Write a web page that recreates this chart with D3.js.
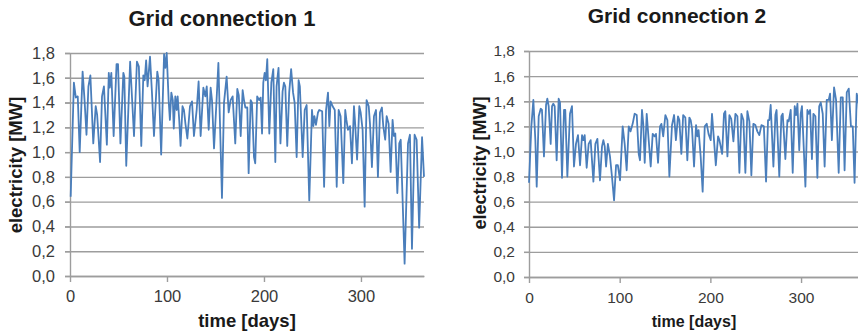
<!DOCTYPE html>
<html>
<head>
<meta charset="utf-8">
<script src="https://cdn.jsdelivr.net/npm/d3@7"></script>
<style>
  html, body { margin: 0; padding: 0; background: #fff; }
  svg { display: block; font-family: "Liberation Sans", Arial, sans-serif; }
</style>
</head>
<body>
<svg id="chart" width="858" height="336"></svg>
<script>
// Tick values and labels
const yTicks = [0, 0.2, 0.4, 0.6, 0.8, 1.0, 1.2, 1.4, 1.6, 1.8];
const xTicks = [0, 100, 200, 300];
const titles = ["Grid connection 1", "Grid connection 2"];
const xLabel = "time [days]";
const yLabel = "electricity [MW]";

// Daily load, [day, MW] at the turning points of the curve
const connection1 = [
  [0.7,0.64],[4,1.56],[6,1.44],[8,1.45],[10,1.00],[13,1.65],[15,1.42],[17,1.14],[19,1.53],[21,1.62],
  [24,1.07],[26.5,1.37],[28,1.30],[31,0.92],[33,1.45],[35,1.53],[38,1.06],[40,1.64],[41,1.52],[42.6,1.64],
  [45,1.13],[48,1.71],[49.5,1.71],[52,1.07],[55,1.64],[56,1.61],[58,0.89],[62,1.73],[66,1.13],[69,1.73],
  [71,1.69],[73.5,1.05],[75.6,1.62],[77,1.58],[78.5,1.74],[80,1.53],[82.5,1.77],[84.5,1.48],[86.6,1.13],[90,1.65],
  [91.4,1.58],[94,0.98],[97,1.79],[98.3,1.68],[99.7,1.80],[101.7,1.42],[103,1.26],[104.5,1.48],[106,1.42],[107,1.19],
  [108.6,1.45],[110,1.34],[111,1.45],[112.7,1.25],[114,1.05],[116,1.37],[117.5,1.34],[119,1.23],[121,1.11],[123.7,1.37],
  [125.8,1.41],[127.8,1.13],[130.6,1.34],[132.6,1.57],[134.7,1.13],[137.5,1.52],[139.5,1.45],[141,1.53],[143,1.18],[145,1.52],
  [146.4,1.42],[148.5,1.03],[151,1.40],[153,1.72],[156.7,0.63],[158.8,1.40],[161.5,1.61],[163.6,1.32],[165.6,1.42],[167.7,1.45],
  [170.4,1.07],[172.5,1.51],[174,1.46],[176,1.13],[178,1.50],[179.4,1.42],[180.8,1.36],[182.8,1.36],[184.2,0.83],[186.3,1.42],
  [187.6,1.40],[189.7,0.96],[191,0.91],[193,1.45],[195,1.42],[196.6,1.44],[198,1.15],[199.3,1.56],[200.7,1.64],[202,1.58],
  [203.4,1.75],[205.5,1.15],[207.6,1.56],[209.6,1.67],[211.7,0.92],[213,1.53],[215,1.68],[217,1.07],[219.2,1.49],[220.6,1.56],
  [222,1.53],[224,1.05],[226,1.48],[228,1.67],[230,1.48],[231.6,1.40],[233.7,0.96],[235.7,1.58],[237,1.53],[239.9,0.96],
  [242,1.34],[244,1.38],[246.7,0.61],[249.5,1.34],[250.9,1.21],[252,1.29],[253.6,1.22],[255.7,1.32],[257,1.34],[260,1.33],
  [262,0.72],[264,1.34],[266,1.48],[267.4,1.21],[268.7,1.41],[270.8,1.37],[273,1.34],[275,0.72],[277,1.34],[279,1.29],
  [281.8,0.75],[283.8,1.34],[285,1.26],[286.6,1.18],[288.7,1.21],[290.7,0.91],[292.8,1.37],[294,1.23],[296,0.94],[298.3,1.37],
  [299.7,1.32],[301.7,1.18],[303.8,0.56],[305.8,1.42],[308,1.37],[309.3,1.23],[311.3,0.88],[313.4,1.29],[315.5,1.34],[317.5,0.80],
  [319.6,1.32],[321.6,1.36],[323,1.21],[325,1.10],[326.5,1.29],[328.5,1.23],[330.6,0.84],[332.6,1.26],[334,1.13],[335.4,1.15],
  [337.5,0.67],[339.5,1.07],[341,1.10],[345,0.10],[348.5,1.07],[350.5,1.14],[352.6,0.22],[355.3,1.14],[357.4,1.10],[360,0.39],
  [363,1.12],[365,0.80]
];

const connection2 = [
  [0,0.75],[2.6,1.20],[4.8,1.41],[7,1.09],[8.5,0.72],[10.7,1.28],[12.9,1.34],[14.3,1.33],[16.5,0.96],[18.8,1.37],
  [20.2,1.42],[21.7,1.36],[23.9,1.06],[25.4,1.36],[26.8,1.38],[28.3,1.36],[30.5,0.93],[32.7,1.42],[34.2,1.39],[36.4,0.79],
  [38.6,1.33],[40,1.33],[42.3,0.80],[45.2,1.30],[47.4,1.36],[49.6,0.88],[51.8,1.06],[54,1.13],[56.3,0.89],[58.5,1.13],
  [60,1.09],[61.4,1.13],[63.6,0.87],[65.8,1.06],[68,1.09],[71,0.76],[73.2,1.06],[75.4,1.10],[78.3,0.77],[80.5,1.04],
  [82,1.09],[83.5,1.04],[85,0.88],[87,1.06],[89.3,0.96],[91.5,0.80],[93.8,0.61],[96,0.89],[98,0.89],[100.4,0.77],
  [103.3,1.20],[105.5,1.06],[107.7,0.85],[110,1.20],[112,1.16],[114.3,1.22],[116.5,1.30],[118.8,1.29],[121,0.98],[122.4,0.93],
  [124.6,1.33],[126,1.22],[127.6,0.91],[129.8,1.30],[132,1.09],[134.2,0.88],[136.4,1.14],[138.6,1.12],[140,1.14],[142.3,0.91],
  [144.5,1.20],[146,1.22],[148,1.12],[150.4,1.29],[152.6,1.25],[154.8,0.80],[157.7,1.21],[160,1.29],[162,1.09],[164.3,1.28],
  [165.8,1.25],[168,0.98],[170,1.29],[172.4,1.27],[174.6,0.93],[176.8,1.27],[178.3,1.25],[179.8,1.18],[182,0.88],[184.2,1.21],
  [185.7,1.12],[187,1.17],[189.3,0.96],[191.5,0.68],[193.8,1.20],[196,1.22],[198,1.14],[200.4,1.09],[201.8,1.30],[204,1.09],
  [206,0.89],[208.5,1.12],[210,1.09],[213,0.98],[215,1.30],[216.5,1.32],[218.8,0.96],[221,1.29],[223,1.26],[225.4,1.08],
  [227.6,1.30],[229.8,1.28],[232,0.83],[234.2,1.30],[236.4,1.25],[238.6,0.83],[240.8,1.32],[243,1.24],[245.2,0.81],[247.4,1.22],
  [249.6,1.21],[251.8,1.16],[254,1.13],[256.3,1.21],[259,1.20],[261.4,0.76],[263.6,1.25],[265,1.25],[266.5,1.37],[269.5,0.88],
  [271.7,1.29],[273,1.33],[276,0.80],[278.3,1.28],[279.8,1.30],[282.7,0.94],[285,1.25],[286.4,1.24],[288.6,1.33],[290.8,0.83],
  [293,1.36],[294.5,1.29],[296,1.38],[298,1.01],[299.6,1.30],[301,1.36],[304.8,0.72],[307,1.33],[308.5,1.30],[310,1.33],
  [312,0.94],[313.6,1.30],[315.8,1.28],[318,0.79],[320,1.36],[321.7,1.39],[323.9,1.30],[326,0.88],[328.3,1.41],[330.5,1.41],
  [332,1.46],[334,1.09],[336.4,1.51],[338.6,1.41],[341.5,0.83],[343.8,1.43],[346,1.43],[348,0.85],[350.4,1.47],[352.6,1.50],
  [355,1.20],[357,1.20],[359,0.75],[361.4,1.46],[363.5,1.38],[365,1.10]
];

// Panel placement and type sizes
const panels = [
  { data: connection1, title: titles[0],
    left: 70, right: 424, bottom: 276, top: 53,
    tickFont: 16.5, titleFont: 22, xLabelFont: 18.5, yLabelFont: 18.5,
    titleX: 222, titleY: 26, xLabelX: 247, xLabelY: 327, yLabelX: 22, yLabelY: 165,
    yPad: 10, xPad: 8 },
  { data: connection2, title: titles[1],
    left: 529, right: 860, bottom: 277, top: 51,
    tickFont: 15.5, titleFont: 21, xLabelFont: 16, yLabelFont: 18,
    titleX: 677, titleY: 23, xLabelX: 694, xLabelY: 327, yLabelX: 486, yLabelY: 163,
    yPad: 9, xPad: 9 }
];

const comma = d3.formatLocale({ decimal: ",", thousands: ".", grouping: [3], currency: ["", ""] }).format(".1f");
const svg = d3.select("#chart");
const gridColor = "#9d9d9d";

panels.forEach(p => {
  const x = d3.scaleLinear().domain([0, 365]).range([p.left, p.right]);
  const y = d3.scaleLinear().domain([0, 1.8]).range([p.bottom, p.top]);
  const g = svg.append("g");

  // horizontal gridlines, starting a few pixels left of the axis
  g.append("g")
    .attr("transform", `translate(${p.left - 5},0)`)
    .call(d3.axisLeft(y).tickValues(yTicks).tickSize(-(p.right - p.left + 5)).tickFormat(""))
    .call(a => a.select(".domain").remove())
    .call(a => a.selectAll("line").attr("stroke", gridColor).attr("stroke-width", 1.4));

  // y axis with comma decimals
  g.append("g")
    .attr("transform", `translate(${p.left},0)`)
    .call(d3.axisLeft(y).tickValues(yTicks).tickSize(5).tickSizeOuter(0).tickPadding(p.yPad).tickFormat(comma))
    .call(a => a.select(".domain").attr("stroke", gridColor).attr("stroke-width", 1.4))
    .call(a => a.selectAll("line").attr("stroke", gridColor).attr("stroke-width", 1.4))
    .call(a => a.selectAll("text").attr("font-size", p.tickFont).attr("fill", "#3a3a3a")
      .attr("font-family", "'Liberation Sans', Arial, sans-serif"));

  // x axis
  g.append("g")
    .attr("transform", `translate(0,${p.bottom})`)
    .call(d3.axisBottom(x).tickValues(xTicks).tickSize(6).tickSizeOuter(0).tickPadding(p.xPad))
    .call(a => a.select(".domain").attr("stroke", gridColor).attr("stroke-width", 1.4))
    .call(a => a.selectAll("line").attr("stroke", gridColor).attr("stroke-width", 1.4))
    .call(a => a.selectAll("text").attr("font-size", p.tickFont).attr("fill", "#3a3a3a")
      .attr("font-family", "'Liberation Sans', Arial, sans-serif"));

  // load curve
  g.append("path")
    .datum(p.data)
    .attr("fill", "none")
    .attr("stroke", "#4a7ebb")
    .attr("stroke-width", 1.8)
    .attr("stroke-linejoin", "round")
    .attr("d", d3.line().x(d => x(d[0])).y(d => y(d[1])));

  // titles
  g.append("text")
    .attr("x", p.titleX).attr("y", p.titleY)
    .attr("text-anchor", "middle")
    .attr("font-size", p.titleFont).attr("font-weight", "bold").attr("fill", "#1a1a1a")
    .text(p.title);

  g.append("text")
    .attr("x", p.xLabelX).attr("y", p.xLabelY)
    .attr("text-anchor", "middle")
    .attr("font-size", p.xLabelFont).attr("font-weight", "bold").attr("fill", "#1a1a1a")
    .text(xLabel);

  g.append("text")
    .attr("transform", `translate(${p.yLabelX},${p.yLabelY}) rotate(-90)`)
    .attr("text-anchor", "middle")
    .attr("font-size", p.yLabelFont).attr("font-weight", "bold").attr("fill", "#1a1a1a")
    .text(yLabel);
});
</script>
</body>
</html>
